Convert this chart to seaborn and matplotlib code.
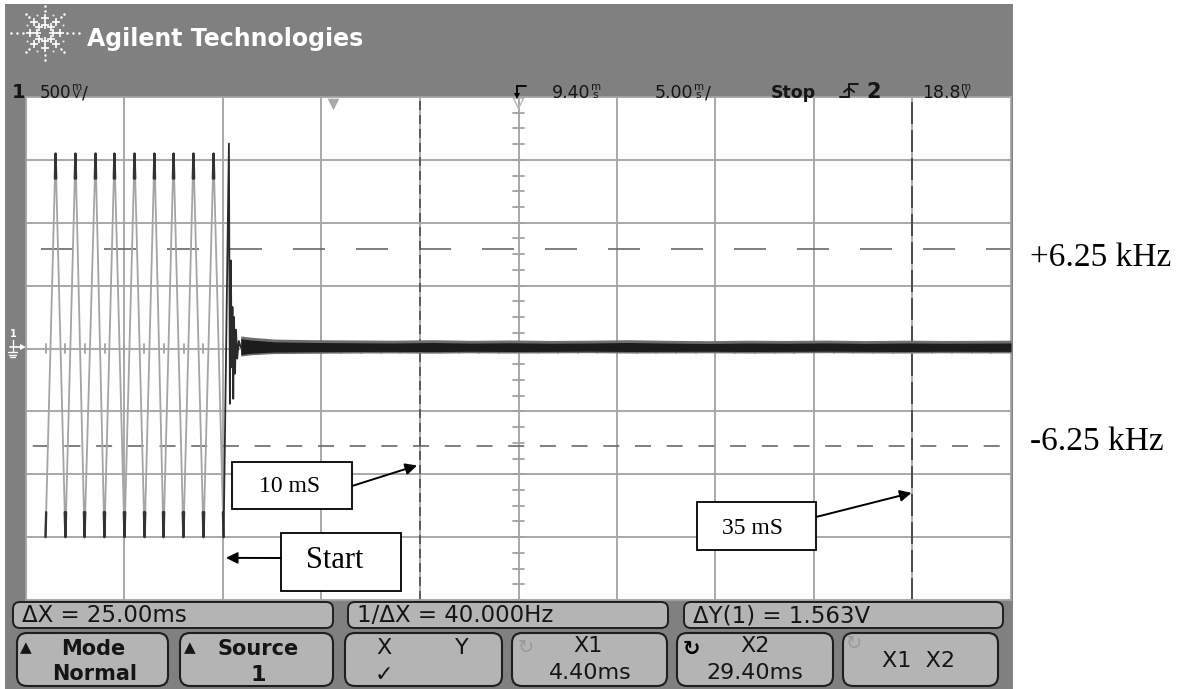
import matplotlib
matplotlib.use("Agg")
import matplotlib.pyplot as plt
import matplotlib.patches as mpatches
import matplotlib.transforms as mtransforms
from matplotlib.lines import Line2D
import numpy as np
import pandas as pd
import seaborn as sns

# ---------------- scope settings ----------------
time_per_div = 5.00        # ms / div
volts_per_div = 0.500      # V / div
delay_ms = 9.40            # time at screen centre
trigger_ms = 0.0
cursor_x1_ms = 4.40
cursor_x2_ms = 29.40
cursor_y1_v = 0.788
cursor_y2_v = -0.775

# ---------------- channel 1 trace ----------------
# FM burst: successive troughs / crests (ms, V)
burst_t = [-14.61, -14.10, -13.60, -13.09, -12.63, -12.07, -11.62, -11.11,
           -10.60, -10.09, -9.58, -9.08, -8.62, -8.11, -7.61, -7.10,
           -6.59, -6.08, -5.57]
burst_v = [-1.50, 1.55, -1.50, 1.55, -1.50, 1.55, -1.50, 1.55,
           -1.50, 1.55, -1.50, 1.55, -1.50, 1.55, -1.50, 1.55,
           -1.50, 1.55, -1.50]
# ringing once the modulation stops
ring_t = [-5.57, -5.30, -5.25, -5.20, -5.16, -5.12, -5.08, -5.04,
          -4.99, -4.94, -4.88, -4.80, -4.70]
ring_v = [-1.50, 1.63, -0.44, 0.70, -0.15, 0.33, -0.40, 0.25,
          -0.20, 0.15, -0.08, 0.06, 0.01]
# settled, noisy trace: upper / lower envelope
rest_t = [-4.70, -4.20, -3.00, -1.00, 1.00, 3.00, 5.00, 7.00, 9.00, 11.00,
          13.00, 15.00, 17.00, 19.00, 21.00, 23.00, 25.00, 27.00, 29.00,
          31.00, 33.00, 34.40]
rest_hi = [0.10, 0.09, 0.075, 0.070, 0.068, 0.066, 0.070, 0.065, 0.068, 0.064,
           0.066, 0.070, 0.065, 0.062, 0.066, 0.064, 0.067, 0.063, 0.066,
           0.064, 0.065, 0.066]
rest_lo = [-0.06, -0.05, -0.040, -0.038, -0.036, -0.035, -0.037, -0.034, -0.036,
           -0.035, -0.033, -0.036, -0.035, -0.034, -0.036, -0.035, -0.033,
           -0.035, -0.036, -0.034, -0.035, -0.035]

# ---------------- readouts ----------------
status_items = [("9.40", "m", "s", ""), ("5.00", "m", "s", "/"), ("18.8", "m", "V", "")]
measurements = ["ΔX = 25.00ms", "1/ΔX = 40.000Hz", "ΔY(1) = 1.563V"]
softkeys = [("Mode", "Normal"), ("Source", "1"), ("X", "Y"),
            ("X1", "4.40ms"), ("X2", "29.40ms"), ("X1  X2", "")]
notes = ["10 mS", "Start", "35 mS"]
freq_labels = ["+6.25 kHz", "-6.25 kHz"]

# ---------------- figure ----------------
W, H = 1189, 689
sns.set_theme(style="white")
plt.rcParams["font.family"] = ["DejaVu Sans"]
plt.rcParams["lines.scale_dashes"] = False

fig = plt.figure(figsize=(W / 100, H / 100), dpi=100)
fig.patch.set_facecolor("white")
# pixel coordinates, origin at top-left
PX = mtransforms.Affine2D().scale(1, -1).translate(0, H)

GRAY = "#808080"
KEY = "#b4b4b4"
INK = "#151515"

fig.add_artist(mpatches.Rectangle((5, 4), 1008, 690, transform=PX,
                                  facecolor=GRAY, edgecolor="none", zorder=-5))

# ---------------- graticule axes ----------------
L, R, T, B = 26, 1011, 97, 600
ax = fig.add_axes([L / W, 1 - B / H, (R - L) / W, (B - T) / H])
ax.set_facecolor("white")
x_lo, x_hi = delay_ms - 5 * time_per_div, delay_ms + 5 * time_per_div
y_lo, y_hi = -4 * volts_per_div, 4 * volts_per_div
ax.set_xlim(x_lo, x_hi)
ax.set_ylim(y_lo, y_hi)
ax.set_xticks([])
ax.set_yticks([])
for sp in ax.spines.values():
    sp.set_color("#a3a3a3")
    sp.set_linewidth(1.3)

grid_kw = dict(color="#a3a3a3", lw=1.3, zorder=1)
for k in range(1, 10):
    ax.axvline(x_lo + k * time_per_div, **grid_kw)
for k in range(1, 8):
    ax.axhline(y_lo + k * volts_per_div, **grid_kw)

# minor ticks on the centre axes
tick_v = 0.032
for k in range(-25, 26):
    t = delay_ms + k * time_per_div / 5
    ax.plot([t, t], [-tick_v, tick_v], color="#a3a3a3", lw=1.3, zorder=1)
tick_t = 0.27
for k in range(-16, 17):
    v = k * volts_per_div / 4
    ax.plot([delay_ms - tick_t, delay_ms + tick_t], [v, v], color="#a3a3a3", lw=1.3, zorder=1)

# cursors
px2pt = 0.72
ax.axhline(cursor_y1_v, color="#6a6a6a", lw=1.2, zorder=2,
           linestyle=(48 * px2pt, (32 * px2pt, 31 * px2pt)))
ax.axhline(cursor_y2_v, color="#6a6a6a", lw=1.2, zorder=2,
           linestyle=(25 * px2pt, (16 * px2pt, 15.7 * px2pt)))
ax.axvline(cursor_x1_ms, color="#555555", lw=1.3, zorder=2,
           linestyle=(0, (9 * px2pt, 5 * px2pt)))
ax.axvline(cursor_x2_ms, color="#444444", lw=1.3, zorder=2,
           linestyle=(0, (22 * px2pt, 6 * px2pt)))

# channel 1 waveform
burst = pd.DataFrame({"t_ms": burst_t, "volts": burst_v})
sns.lineplot(data=burst, x="t_ms", y="volts", sort=False, estimator=None,
             color="#a4a4a4", lw=1.3, ax=ax, zorder=4, legend=False)
# brighter (slow) crest / trough regions
tip_frac = 0.065
for i in range(len(burst_t)):
    xs, ys = [], []
    if i > 0:
        xs.append(burst_t[i] + tip_frac * (burst_t[i - 1] - burst_t[i]))
        ys.append(burst_v[i] + tip_frac * (burst_v[i - 1] - burst_v[i]))
    xs.append(burst_t[i]); ys.append(burst_v[i])
    if i < len(burst_t) - 1:
        xs.append(burst_t[i] + tip_frac * (burst_t[i + 1] - burst_t[i]))
        ys.append(burst_v[i] + tip_frac * (burst_v[i + 1] - burst_v[i]))
    ax.plot(xs, ys, color="#333333", lw=1.7, zorder=5, solid_capstyle="round")

ring = pd.DataFrame({"t_ms": ring_t, "volts": ring_v})
sns.lineplot(data=ring, x="t_ms", y="volts", sort=False, estimator=None,
             color="#2a2a2a", lw=1.3, ax=ax, zorder=5, legend=False)

ax.fill_between(rest_t, rest_lo, rest_hi, color="#6e6e6e", lw=0, zorder=5)
ax.fill_between(rest_t, [v + 0.012 for v in rest_lo], [v - 0.022 for v in rest_hi],
                color="#1c1c1c", lw=0, zorder=6)

ax.set_xlabel("")
ax.set_ylabel("")

# trigger point and delay reference markers
ax.scatter([trigger_ms], [y_hi - 0.055], marker="v", s=70, color="#a9a9a9",
           zorder=7, clip_on=False, linewidths=0)
ax.scatter([delay_ms], [y_hi - 0.05], marker="v", s=55, facecolors="none",
           edgecolors="#b5b5b5", linewidths=1.0, zorder=7, clip_on=False)

# ---------------- annotations ----------------
note_boxes = [(232, 462, 120, 47), (281, 533, 120, 58), (697, 502, 119, 48)]
note_text_xy = [(290, 486), (335, 560), (752, 528)]
note_sizes = [17, 22, 17]
note_tail = [(352, 486), (281, 558), (816, 517)]
note_tip = [(cursor_x1_ms - 0.15, -0.93), (-5.45, -1.665), (cursor_x2_ms - 0.05, -1.148)]
for txt, (bx, by, bw, bh), (tx, ty), fs, tail, tip in zip(
        notes, note_boxes, note_text_xy, note_sizes, note_tail, note_tip):
    ax.annotate("", xy=tip, xycoords="data", xytext=tail, textcoords=PX,
                arrowprops=dict(arrowstyle="-|>", color="black", lw=1.4,
                                mutation_scale=17, shrinkA=0, shrinkB=0),
                annotation_clip=False, zorder=9)
    fig.add_artist(mpatches.Rectangle((bx, by), bw, bh, transform=PX,
                                      facecolor="white", edgecolor="black",
                                      lw=1.3, zorder=10))
    fig.text(tx, ty, txt, transform=PX, ha="center", va="center",
             family="Liberation Serif", size=fs, color="black", zorder=11)

for lab, yy in zip(freq_labels, [258, 442]):
    fig.text(1030, yy, lab, transform=PX, ha="left", va="center",
             family="Liberation Serif", size=24, color="black")

# ---------------- header ----------------
fig.text(87, 46, "Agilent Technologies", transform=PX, color="white",
         weight="bold", size=17, va="baseline")

cx, cy = 45, 33
for ang in range(0, 360, 45):
    a = np.deg2rad(ang)
    horiz = abs(np.cos(a)) > 0.99
    plus_r = [8, 15]
    dot_r = [22, 28, 34] if horiz else [22, 27]
    fig.add_artist(Line2D([cx + r * np.cos(a) for r in plus_r],
                          [cy - r * np.sin(a) for r in plus_r], transform=PX,
                          ls="none", marker="+", ms=6, mew=1.2, color="white"))
    fig.add_artist(Line2D([cx + r * np.cos(a) for r in dot_r],
                          [cy - r * np.sin(a) for r in dot_r], transform=PX,
                          ls="none", marker="o", ms=1.8, mew=0, color="white"))
for ang in range(0, 360, 45):
    a = np.deg2rad(ang + 22.5)
    fig.add_artist(Line2D([cx + 20 * np.cos(a)], [cy - 20 * np.sin(a)], transform=PX,
                          ls="none", marker="o", ms=1.5, mew=0, color="#e6e6e6"))

# status line
BASE = 98

def stacked_unit(x, top, bottom):
    fig.text(x, BASE - 8, top, transform=PX, size=7.5, color=INK, va="baseline")
    fig.text(x + 1, BASE, bottom, transform=PX, size=7.5, color=INK, va="baseline")

fig.text(12, BASE, "1", transform=PX, weight="bold", size=14, color=INK, va="baseline")
fig.text(40, BASE, "500", transform=PX, size=12, color=INK, va="baseline")
stacked_unit(72, "m", "V")
fig.text(82, BASE, "/", transform=PX, size=12.5, color=INK, va="baseline")

for (num, u1, u2, tail), x0 in zip(status_items, [552, 655, 922]):
    fig.text(x0, BASE, num, transform=PX, size=12.5, color=INK, va="baseline")
    ux = x0 + 39
    stacked_unit(ux, u1, u2)
    if tail:
        fig.text(ux + 11, BASE, tail, transform=PX, size=12.5, color=INK, va="baseline")
fig.text(771, BASE, "Stop", transform=PX, size=12.5, weight="bold", color=INK, va="baseline")
# rising-edge trigger symbol
fig.add_artist(Line2D([840, 849, 849, 858], [97, 97, 84, 84], transform=PX,
                      color=INK, lw=1.4))
fig.add_artist(Line2D([844, 849, 854], [92, 88, 92], transform=PX, color=INK, lw=1.4))
fig.text(866, BASE, "2", transform=PX, size=15, weight="bold", color=INK, va="baseline")

# delay reference arrow above the screen centre
fig.add_artist(Line2D([517, 526], [86, 86], transform=PX, color="black", lw=1.3))
fig.add_artist(Line2D([517, 517], [86, 95], transform=PX, color="black", lw=1.3))
fig.add_artist(Line2D([517], [96], transform=PX, marker="v", ms=5, color="black", mew=0))

# channel 1 ground reference at left edge
fig.text(13, 334, "1", transform=PX, size=7, color="white", ha="center", va="center",
         weight="bold")
fig.add_artist(Line2D([10, 22], [347, 347], transform=PX, color="white", lw=1.2))
fig.add_artist(Line2D([23], [347], transform=PX, marker=">", ms=5, color="white", mew=0))
for i, (a, b) in enumerate([(8, 17), (9, 16), (10, 15)]):
    fig.add_artist(Line2D([a, b], [352 + 2.5 * i, 352 + 2.5 * i], transform=PX,
                          color="white", lw=1.0))
fig.add_artist(Line2D([12.5, 12.5], [340, 352], transform=PX, color="white", lw=1.0))

# ---------------- measurement bar ----------------
meas_boxes = [(13, 602, 320), (348, 602, 320), (684, 602, 319)]
for txt, (bx, by, bw) in zip(measurements, meas_boxes):
    fig.add_artist(mpatches.FancyBboxPatch((bx, by), bw, 26, transform=PX,
                                           boxstyle="round,pad=0,rounding_size=7",
                                           facecolor=KEY, edgecolor="#1e1e1e",
                                           lw=1.4, zorder=2))
    fig.text(bx + 9, by + 14, txt, transform=PX, size=16.5, color=INK, va="center",
             zorder=3)

# ---------------- softkeys ----------------
key_boxes = [(17, 151), (180, 153), (345, 157), (512, 155), (677, 156), (843, 155)]
for (bx, bw) in key_boxes:
    fig.add_artist(mpatches.FancyBboxPatch((bx, 633), bw, 53, transform=PX,
                                           boxstyle="round,pad=0,rounding_size=10",
                                           facecolor=KEY, edgecolor="#1e1e1e",
                                           lw=1.5, zorder=2))


def key_text(x, y, s, color=INK, **kw):
    kw.setdefault("size", 15)
    fig.text(x, y, s, transform=PX, ha="center", va="center", color=color,
             zorder=3, **kw)


# Mode / Normal
key_text(26, 648, "▲", size=11)
key_text(93, 649, softkeys[0][0], weight="bold")
key_text(95, 674, softkeys[0][1], weight="bold")
# Source / 1
key_text(190, 648, "▲", size=11)
key_text(258, 649, softkeys[1][0], weight="bold")
key_text(258, 675, softkeys[1][1], weight="bold", size=16)
# X  Y with check mark
key_text(384, 648, softkeys[2][0], size=16)
key_text(462, 648, softkeys[2][1], size=16)
key_text(384, 675, "✓", size=16)
# X1 / X2 cursor positions
key_text(526, 648, "↻", color="#9a9a9a", size=14)
key_text(588, 646, softkeys[3][0], size=16)
key_text(590, 673, softkeys[3][1], size=16)
key_text(691, 649, "↻", color="black", size=15, weight="bold")
key_text(755, 646, softkeys[4][0], size=16)
key_text(755, 673, softkeys[4][1], size=16)
key_text(854, 643, "↻", color="#9a9a9a", size=14)
key_text(919, 661, softkeys[5][0], size=16)

fig.savefig("out.png", dpi=100, facecolor="white")
